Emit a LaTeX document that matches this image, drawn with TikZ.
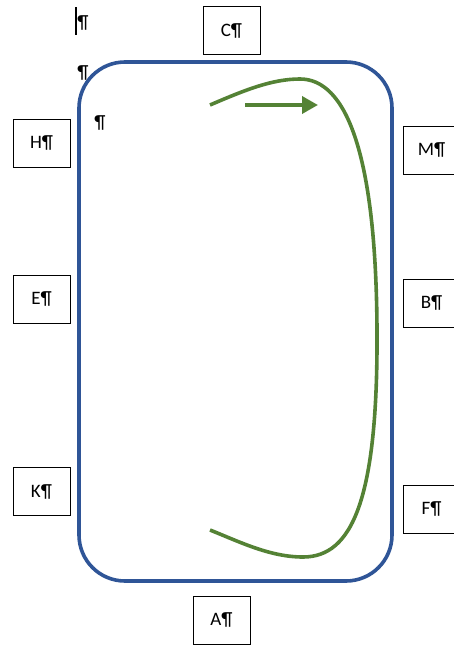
\documentclass[tikz,border=0pt]{standalone}
\usepackage{fontspec}
\setmainfont{Carlito}
\usetikzlibrary{arrows.meta}
\definecolor{frameblue}{HTML}{2F5597}
\definecolor{loopgreen}{HTML}{548235}
\begin{document}
\begin{tikzpicture}[x=1pt,y=-1pt,
  lbl/.style={draw=black,line width=0.9pt,minimum width=57pt,minimum height=48pt,inner sep=0pt,font=\fontsize{19}{21}\selectfont},
  pilcrow/.style={inner sep=0pt,font=\fontsize{19}{21}\selectfont},
  framebox/.style={draw=frameblue,line width=3.6pt,rounded corners=46pt,minimum width=313pt,minimum height=519pt,inner sep=0pt},
  flow/.style={draw=loopgreen,line width=3.6pt}]
\useasboundingbox (0,0) rectangle (454,645);
\node[framebox] (frm) at (235.5,321.5) {};
\node[lbl] (C) at (231.5,30.5) {C¶};
\node[lbl] (H) at (41.5,143) {H¶};
\node[lbl] (E) at (41.5,299) {E¶};
\node[lbl] (K) at (41.5,491.5) {K¶};
\node[lbl] (M) at (431.5,150) {M¶};
\node[lbl] (B) at (431.5,303) {B¶};
\node[lbl] (F) at (431.5,509) {F¶};
\node[lbl] (A) at (221.5,620) {A¶};
\node[pilcrow] (p1) at (83,23) {¶};
\node[pilcrow] (p2) at (83,73) {¶};
\node[pilcrow] (p3) at (100,123) {¶};
\coordinate (cur1) at (76,7);
\coordinate (cur2) at (76,35);
\draw[line width=1.2pt] (cur1) -- (cur2);
\coordinate (g0) at (210,105);
\coordinate (g1) at (300,79);
\coordinate (g2) at (377,330);
\coordinate (g3) at (303,557);
\coordinate (g4) at (210,530);
\draw[flow] (g0) .. controls (245,90) and (272,79) .. (g1)
  .. controls (345,79) and (376,150) .. (g2)
  .. controls (378,500) and (352,557) .. (g3)
  .. controls (270,557) and (240,542) .. (g4);
\coordinate (a0) at (245,105);
\coordinate (a1) at (318,105);
\draw[flow,-{Triangle[length=16pt,width=17pt]}] (a0) -- (a1);
\end{tikzpicture}
\end{document}
